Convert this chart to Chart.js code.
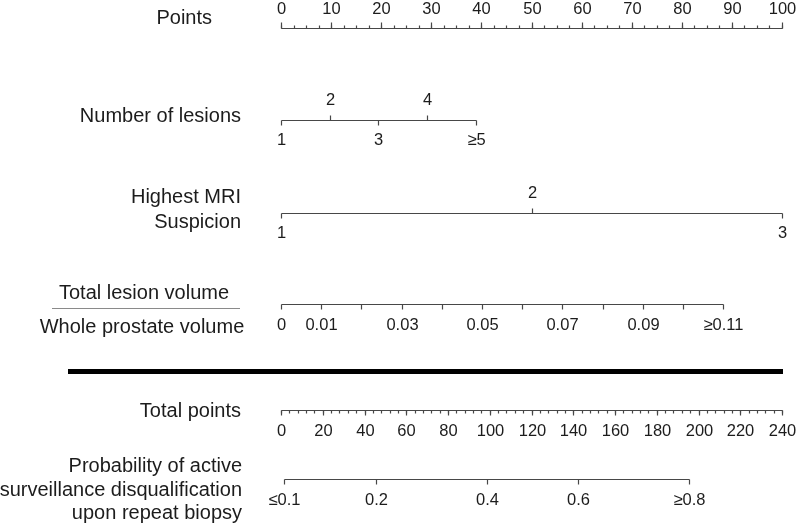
<!DOCTYPE html>
<html>
<head>
<meta charset="utf-8">
<script src="https://cdn.jsdelivr.net/npm/chart.js@4.4.1/dist/chart.umd.min.js"></script>
<style>
  html, body { margin: 0; background: #fff; }
  #wrap { width: 800px; height: 525px; }
</style>
</head>
<body>
<div id="wrap"><canvas id="nomogram"></canvas></div>
<script>
// Points scale (0-100)
const pointTicks = [0, 10, 20, 30, 40, 50, 60, 70, 80, 90, 100];
const pointMinorStep = 2.5;

// Number of lesions -> points
const lesionLabels = ['1', '2', '3', '4', '≥5'];
const lesionPoints = [0, 9.7, 19.4, 29.2, 38.9];

// Highest MRI suspicion -> points
const mriLabels = ['1', '2', '3'];
const mriPoints = [0, 50, 100];

// Total lesion volume / whole prostate volume (own scale)
const ratioTicks = [0, 0.01, 0.02, 0.03, 0.04, 0.05, 0.06, 0.07, 0.08, 0.09, 0.10, 0.11];
const ratioLabels = ['0', '0.01', '', '0.03', '', '0.05', '', '0.07', '', '0.09', '', '≥0.11'];
const ratioScaleMax = 0.1246; // ratio value sitting at 100 points

// Total points (0-240)
const totalTicks = [0, 20, 40, 60, 80, 100, 120, 140, 160, 180, 200, 220, 240];
const totalMinorStep = 4;

// Probability -> total points
const probLabels = ['≤0.1', '0.2', '0.4', '0.6', '≥0.8'];
const probTotalPoints = [1.4, 45.4, 98.5, 142.4, 195.4];

const LINE = '#474747';
const TEXT = '#1c1c1c';
const labelFont = '20px "Liberation Sans", Arial, sans-serif';
const tickFont = '16.5px "Liberation Sans", Arial, sans-serif';

function range(a, b, step) {
  const out = [];
  for (let v = a; v <= b + 1e-9; v += step) out.push(v);
  return out;
}

// draws one axis: line, ticks and labels, using a chart x scale
function drawAxis(ctx, xs, ys, o) {
  const y = ys.getPixelForValue(o.y);
  const px = v => Math.round(xs.getPixelForValue(v)) + 0.5;
  const x0 = px(o.values[0]);
  const x1 = px(o.values[o.values.length - 1]);
  ctx.strokeStyle = LINE;
  ctx.lineWidth = 1.2;
  ctx.beginPath();
  ctx.moveTo(x0, y + 0.5);
  ctx.lineTo(x1, y + 0.5);
  ctx.stroke();
  (o.minor || []).forEach(v => {
    const x = px(v);
    ctx.beginPath();
    ctx.moveTo(x, y + 0.5);
    ctx.lineTo(x, y + 0.5 + o.dir * o.minorLen);
    ctx.stroke();
  });
  ctx.fillStyle = TEXT;
  ctx.font = tickFont;
  ctx.textAlign = 'center';
  ctx.textBaseline = 'middle';
  o.values.forEach((v, i) => {
    const d = o.dirs ? o.dirs[i] : o.dir;
    const x = px(v);
    ctx.beginPath();
    ctx.moveTo(x, y + 0.5);
    ctx.lineTo(x, y + 0.5 + d * o.len);
    ctx.stroke();
    const t = o.labels[i];
    if (t) ctx.fillText(t, x, y + d * o.labelGap);
  });
}

const nomogramPlugin = {
  id: 'nomogram',
  afterDraw(chart) {
    const ctx = chart.ctx;
    const xs = chart.scales.x;
    const xr = chart.scales.xRatio;
    const xt = chart.scales.xTotal;
    const ys = chart.scales.y;
    ctx.save();

    drawAxis(ctx, xs, ys, {
      y: 28, values: pointTicks, labels: pointTicks.map(String),
      minor: range(0, 100, pointMinorStep), dir: -1, len: 6, minorLen: 3, labelGap: 19
    });
    drawAxis(ctx, xs, ys, {
      y: 120, values: lesionPoints, labels: lesionLabels,
      dirs: [1, -1, 1, -1, 1], dir: 1, len: 5, labelGap: 20
    });
    drawAxis(ctx, xs, ys, {
      y: 213, values: mriPoints, labels: mriLabels,
      dirs: [1, -1, 1], dir: 1, len: 5, labelGap: 20
    });
    drawAxis(ctx, xr, ys, {
      y: 304, values: ratioTicks, labels: ratioLabels, dir: 1, len: 5, labelGap: 21
    });
    drawAxis(ctx, xt, ys, {
      y: 410, values: totalTicks, labels: totalTicks.map(String),
      minor: range(0, 240, totalMinorStep), dir: 1, len: 5, minorLen: 3, labelGap: 21
    });
    drawAxis(ctx, xt, ys, {
      y: 479, values: probTotalPoints, labels: probLabels, dir: 1, len: 5, labelGap: 21
    });

    // heavy separator
    ctx.strokeStyle = '#000';
    ctx.lineWidth = 5;
    ctx.beginPath();
    ctx.moveTo(68, 371.5);
    ctx.lineTo(chart.chartArea.right + 1, 371.5);
    ctx.stroke();

    // variable names
    ctx.fillStyle = TEXT;
    ctx.font = labelFont;
    ctx.textBaseline = 'middle';
    ctx.textAlign = 'right';
    ctx.fillText('Points', 212, 18);
    ctx.fillText('Number of lesions', 241, 116);
    ctx.fillText('Highest MRI', 241, 197);
    ctx.fillText('Suspicion', 241, 222);
    ctx.fillText('Total points', 241, 411);
    ctx.fillText('Probability of active', 242, 466);
    ctx.fillText('surveillance disqualification', 242, 490);
    ctx.fillText('upon repeat biopsy', 242, 513);

    ctx.textAlign = 'center';
    ctx.fillText('Total lesion volume', 144, 293);
    ctx.fillText('Whole prostate volume', 142, 327);
    ctx.strokeStyle = '#8a8a8a';
    ctx.lineWidth = 1.2;
    ctx.beginPath();
    ctx.moveTo(52, 308.5);
    ctx.lineTo(240, 308.5);
    ctx.stroke();

    ctx.restore();
  }
};

new Chart(document.getElementById('nomogram'), {
  type: 'scatter',
  data: { datasets: [] },
  options: {
    responsive: true,
    maintainAspectRatio: false,
    animation: false,
    layout: { padding: { left: 281, right: 18, top: 0, bottom: 0 } },
    plugins: { legend: { display: false }, tooltip: { enabled: false } },
    scales: {
      x: { type: 'linear', min: 0, max: 100, display: false },
      xRatio: { type: 'linear', axis: 'x', position: 'bottom', min: 0, max: ratioScaleMax, display: false },
      xTotal: { type: 'linear', axis: 'x', position: 'bottom', min: 0, max: 240, display: false },
      y: { type: 'linear', min: 0, max: 525, reverse: true, display: false }
    }
  },
  plugins: [nomogramPlugin]
});
</script>
</body>
</html>
